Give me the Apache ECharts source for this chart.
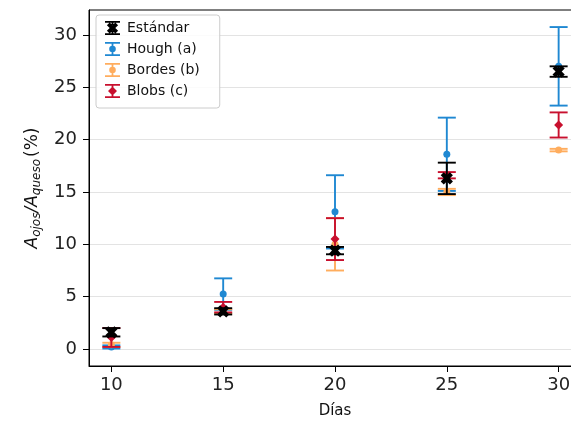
<!DOCTYPE html>
<html>
<head>
<meta charset="utf-8">
<script src="https://cdn.jsdelivr.net/npm/echarts@6/dist/echarts.min.js"></script>
<style>
  html, body { margin: 0; padding: 0; background: #fff; }
  #chart { width: 571px; height: 423px; }
</style>
</head>
<body>
<div id="chart"></div>
<script>
// Days of ripening (x values)
const days = [10, 15, 20, 25, 30];

// Eye area as a percentage of cheese area, mean and symmetric error per method
const estandarVals = [1.6, 3.6, 9.4, 16.3, 26.5];
const estandarErr  = [0.4, 0.3, 0.35, 1.5, 0.5];

const houghVals = [0.2, 5.25, 13.1, 18.6, 27.0];
const houghErr  = [0.15, 1.5, 3.5, 3.5, 3.75];

const bordesVals = [0.4, 3.6, 10.0, 15.0, 19.0];
const bordesErr  = [0.2, 0.2, 2.5, 0.3, 0.12];

const blobsVals = [1.1, 4.0, 10.5, 16.6, 21.4];
const blobsErr  = [0.9, 0.5, 2.0, 0.3, 1.2];

// Axis tick values
const xTicks = [10, 15, 20, 25, 30];
const yTicks = [0, 5, 10, 15, 20, 25, 30];

const FONT = 'DejaVu Sans';

// Filled "X" marker polygon centred on the origin (about 10 units across)
function xMarkerPts(a) {
  const L = 5.4;
  const pts = [[-a,-L],[a,-L],[a,-a],[L,-a],[L,a],[a,a],[a,L],[-a,L],[-a,a],[-L,a],[-L,-a],[-a,-a]];
  return pts.map(([x, y]) => [(x - y) / Math.SQRT2, (x + y) / Math.SQRT2]);
}
function polyToPath(pts, dx, dy, s) {
  return 'M' + pts.map(p => ((p[0] * s + dx).toFixed(2) + ' ' + (p[1] * s + dy).toFixed(2))).join(' L') + ' Z';
}
const X_PTS = xMarkerPts(1.8);
const DIAMOND_PTS = [[0,-5],[5,0],[0,5],[-5,0]];

function circlePath(cx, cy, r) {
  return `M${cx - r} ${cy} A${r} ${r} 0 1 1 ${cx + r} ${cy} A${r} ${r} 0 1 1 ${cx - r} ${cy} Z`;
}
function rectPath(x0, y0, x1, y1) {
  return `M${x0} ${y0} L${x1} ${y0} L${x1} ${y1} L${x0} ${y1} Z `;
}

// Legend handle: error bar with caps and the series marker in the middle (19 x 14 box)
function legendIcon(marker) {
  const w = 19, h = 14, t = 1.8, cx = 9.5, cy = 7, gap = 3;
  let p = rectPath(2, 0, w - 2, t) + rectPath(2, h - t, w - 2, h) +
          rectPath(cx - t / 2, 0, cx + t / 2, cy - gap) +
          rectPath(cx - t / 2, cy + gap, cx + t / 2, h) +
          rectPath(0, 6.9, 0.1, 7.1) + rectPath(w - 0.1, 6.9, w, 7.1);
  if (marker === 'x') p += polyToPath(X_PTS, cx, cy, 1.1);
  else if (marker === 'diamond') p += polyToPath(DIAMOND_PTS, cx, cy, 0.9);
  else p += circlePath(cx, cy, 3.3);
  return 'path://' + p;
}

function errorbarRender(color, marker, msize) {
  return function (params, api) {
    const x = api.value(0), y = api.value(1), e = api.value(2);
    const c = api.coord([x, y]);
    const hi = api.coord([x, y + e]);
    const lo = api.coord([x, y - e]);
    const cap = 9;
    const ls = { stroke: color, lineWidth: 1.9 };
    const children = [
      { type: 'line', shape: { x1: c[0], y1: hi[1], x2: c[0], y2: lo[1] }, style: ls },
      { type: 'line', shape: { x1: c[0] - cap, y1: hi[1], x2: c[0] + cap, y2: hi[1] }, style: ls },
      { type: 'line', shape: { x1: c[0] - cap, y1: lo[1], x2: c[0] + cap, y2: lo[1] }, style: ls }
    ];
    let pathData;
    if (marker === 'x') pathData = polyToPath(X_PTS, 0, 0, msize / 10);
    else if (marker === 'diamond') pathData = polyToPath(DIAMOND_PTS, 0, 0, msize / 10);
    if (pathData) {
      children.push({ type: 'path', x: c[0], y: c[1], shape: { pathData: pathData }, style: { fill: color } });
    } else {
      children.push({ type: 'circle', shape: { cx: c[0], cy: c[1], r: msize / 2 }, style: { fill: color } });
    }
    return { type: 'group', children: children };
  };
}

function seriesData(vals, errs) {
  return days.map((d, i) => [d, vals[i], errs[i]]);
}

const methods = [
  { name: 'Hough (a)',  color: '#1f88d2', marker: 'circle',  size: 7,  vals: houghVals,    errs: houghErr,    z: 2 },
  { name: 'Bordes (b)', color: '#ffad5e', marker: 'circle',  size: 7,  vals: bordesVals,   errs: bordesErr,   z: 3 },
  { name: 'Blobs (c)',  color: '#c8102e', marker: 'diamond', size: 9,  vals: blobsVals,    errs: blobsErr,    z: 4 },
  { name: 'Estándar',   color: '#000000', marker: 'x',       size: 12, vals: estandarVals, errs: estandarErr, z: 5 }
];
const legendOrder = ['Estándar', 'Hough (a)', 'Bordes (b)', 'Blobs (c)'];

const chart = echarts.init(document.getElementById('chart'), null, { renderer: 'canvas' });

chart.setOption({
  animation: false,
  backgroundColor: '#ffffff',
  grid: {
    left: 89, top: 10, width: 492, height: 356,
    outerBoundsMode: 'none', containLabel: false,
    show: true, borderColor: '#000', borderWidth: 1, backgroundColor: 'transparent'
  },
  legend: {
    left: 96, top: 15, orient: 'vertical',
    itemWidth: 19, itemHeight: 14, itemGap: 7,
    padding: [6, 20, 10, 7],
    backgroundColor: 'rgba(255,255,255,0.85)',
    borderColor: '#cccccc', borderWidth: 1, borderRadius: 3,
    textStyle: { fontFamily: FONT, fontSize: 14, color: '#111' },
    data: legendOrder.map(n => {
      const m = methods.find(s => s.name === n);
      return { name: n, icon: legendIcon(m.marker) };
    })
  },
  xAxis: {
    type: 'value', min: 9, max: 31,
    name: 'Días', nameLocation: 'middle', nameGap: 38,
    nameTextStyle: { fontFamily: FONT, fontSize: 15, color: '#111' },
    axisLine: { show: true, onZero: false, lineStyle: { color: '#000', width: 1 } },
    axisTick: { show: true, length: 6, customValues: xTicks, lineStyle: { color: '#000' } },
    axisLabel: { customValues: xTicks, margin: 10, fontFamily: FONT, fontSize: 18, color: '#222' },
    splitLine: { show: false }
  },
  yAxis: {
    type: 'value', min: -1.62, max: 32.38,
    name: '{i|A}{s|ojos}{i|/A}{s|queso}{n|(%)}',
    nameLocation: 'middle', nameGap: 45,
    nameTextStyle: {
      fontFamily: FONT, fontSize: 17, color: '#111',
      rich: {
        i: { fontFamily: FONT, fontStyle: 'italic', fontSize: 17, lineHeight: 22, verticalAlign: 'middle', color: '#111' },
        s: { fontFamily: FONT, fontStyle: 'italic', fontSize: 12, lineHeight: 12, verticalAlign: 'bottom', color: '#111' },
        n: { fontFamily: FONT, fontSize: 17, lineHeight: 22, verticalAlign: 'middle', color: '#111', padding: [0, 0, 0, 2] }
      }
    },
    axisLine: { show: true, onZero: false, lineStyle: { color: '#000', width: 1 } },
    axisTick: { show: true, length: 6, customValues: yTicks, lineStyle: { color: '#000' } },
    axisLabel: { customValues: yTicks, margin: 12, fontFamily: FONT, fontSize: 18, color: '#222' },
    splitLine: { show: true, lineStyle: { color: '#e3e3e3', width: 1 } }
  },
  series: methods.map(m => ({
    type: 'custom',
    name: m.name,
    z: m.z,
    itemStyle: { color: m.color },
    renderItem: errorbarRender(m.color, m.marker, m.size),
    encode: { x: 0, y: 1 },
    data: seriesData(m.vals, m.errs)
  }))
});
</script>
</body>
</html>
